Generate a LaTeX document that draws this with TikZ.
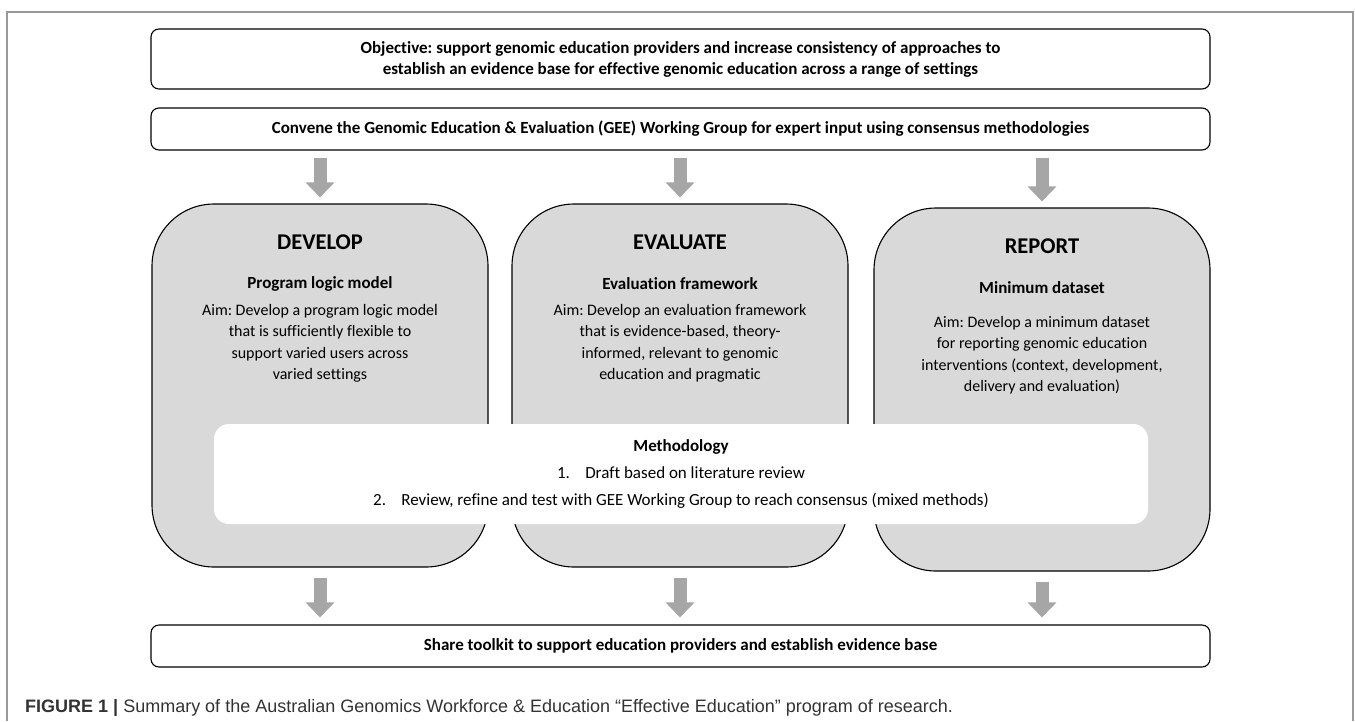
\documentclass[tikz,border=0pt]{standalone}
\usepackage{fontspec}
\setmainfont{Carlito}[Ligatures=NoCommon]
\newfontfamily\capfont{Liberation Sans}
\usetikzlibrary{arrows.meta}
\frenchspacing

\begin{document}
\begin{tikzpicture}[x=1pt, y=-1pt,
	box/.style={draw, line width=1.1pt, rounded corners=8pt, minimum width=1059pt, align=center, font=\bfseries\fontsize{17}{21}\selectfont},
	col/.style={draw, line width=1.1pt, fill=black!15, rounded corners=62pt, minimum width=336pt, minimum height=363pt},
	flow/.style={line width=13pt, black!35, -{Triangle[length=15pt, width=28pt]}}]

\useasboundingbox (0, 0) rectangle (1355, 721);
\draw[black!40, line width=1.5pt] (7, 721) -- (7, 12) -- (1353, 12) -- (1353, 721);

\node[box, minimum height=60pt] (obj) at (680.5, 59) {Objective: support genomic education providers and increase consistency of approaches to\\establish an evidence base for effective genomic education across a range of settings};
\node[box, minimum height=42pt] (conv) at (680.5, 129) {Convene the Genomic Education \& Evaluation (GEE) Working Group for expert input using consensus methodologies};
\node[box, minimum height=42pt] (share) at (680.5, 646) {Share toolkit to support education providers and establish evidence base};

% the three work streams
\foreach \n/\x/\dy/\ay/\ttl/\sub/\aim in {
	dev/320/0/0/DEVELOP/Program logic model/{Aim: Develop a program logic model\\that is sufficiently flexible to\\support varied users across\\varied settings},
	eva/680/0/0/EVALUATE/Evaluation framework/{Aim: Develop an evaluation framework\\that is evidence-based, theory-\\informed, relevant to genomic\\education and pragmatic},
	rep/1042/4/12/REPORT/Minimum dataset/{Aim: Develop a minimum dataset\\for reporting genomic education\\interventions (context, development,\\delivery and evaluation)}}
{
	\node[col] (\n) at (\x, 385.5+\dy) {};
	\node[font=\bfseries\fontsize{22.5}{26}\selectfont] (\n-ttl) at (\x, 242+\dy) {\ttl};
	\node[font=\bfseries\fontsize{17}{20}\selectfont] (\n-sub) at (\x, 284+\dy) {\sub};
	\node[anchor=north, inner sep=0pt, align=center, font=\fontsize{16}{21.5}\selectfont] (\n-aim) at (\x, 304+\ay) {\aim};
}

\node[fill=white, rounded corners=15pt, minimum width=934pt, minimum height=100pt, align=center, font=\fontsize{17}{27}\selectfont] (meth) at (681, 474)
	{\textbf{Methodology}\\1.\hspace{0.9em}Draft based on literature review\\2.\hspace{0.9em}Review, refine and test with GEE Working Group to reach consensus (mixed methods)};

\foreach \n in {dev, eva, rep}
{
	\draw[flow, shorten <=7pt, shorten >=6pt] (conv.south -| \n.north) -- (\n.north);
	\draw[flow, shorten <=10pt, shorten >=7pt] (\n.south) -- (\n.south |- share.north);
}

\node[anchor=west, inner sep=0pt, text=black!80, font=\capfont\fontsize{18}{21}\selectfont] (cap) at (25, 708) {\textbf{FIGURE 1 |} Summary of the Australian Genomics Workforce \& Education “Effective Education” program of research.};

\end{tikzpicture}
\end{document}
